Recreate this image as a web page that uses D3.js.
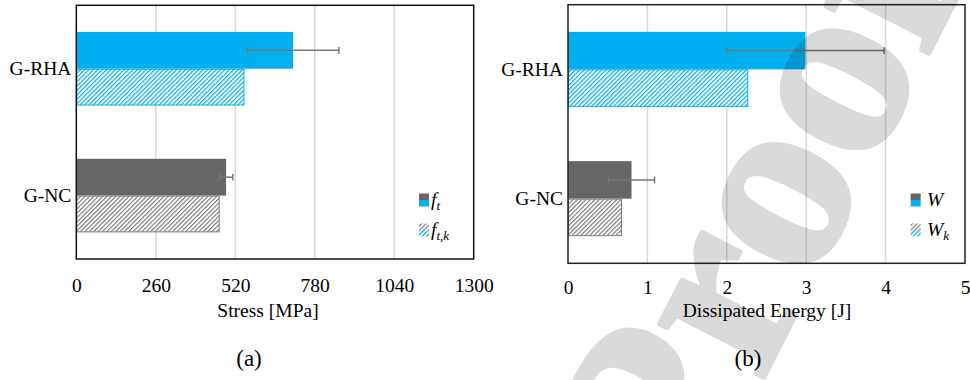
<!DOCTYPE html>
<html>
<head>
<meta charset="utf-8">
<script src="https://cdn.jsdelivr.net/npm/d3@7/dist/d3.min.js"></script>
<style>
  html, body { margin: 0; padding: 0; background: #ffffff; }
  svg { display: block; }
  text { font-family: "Liberation Serif", "Times New Roman", serif; fill: #000; }
</style>
</head>
<body>
<svg id="chart" width="970" height="380"></svg>
<script>
// Specimen groups
const categories = ["G-RHA", "G-NC"];

// Tensile stress [MPa]: mean, standard deviation, characteristic value
const stressMean = [709, 490];
const stressErr = [150, 22];
const stressChar = [550, 469];
const stressTicks = [0, 260, 520, 780, 1040, 1300];

// Dissipated energy [J]: mean, standard deviation, characteristic value
const energyMean = [2.99, 0.80];
const energyErr = [0.99, 0.29];
const energyChar = [2.27, 0.68];
const energyTicks = [0, 1, 2, 3, 4, 5];

// Group colours (solid bar / hatch colour)
const solidColors = ["#00b0f0", "#666666"];
const hatchColors = ["#00b0f0", "#7f7f7f"];

const svg = d3.select("#chart");
const defs = svg.append("defs");

function hatchPattern(id, color) {
  const p = defs.append("pattern")
    .attr("id", id)
    .attr("patternUnits", "userSpaceOnUse")
    .attr("width", 3.1).attr("height", 3.1)
    .attr("patternTransform", "rotate(45)");
  p.append("rect").attr("width", 3.1).attr("height", 3.1).attr("fill", "#fff");
  p.append("line").attr("x1", 0.6).attr("y1", 0).attr("x2", 0.6).attr("y2", 3.1)
    .attr("stroke", color).attr("stroke-width", 1.2);
}
hatchPattern("hatch-0", hatchColors[0]);
hatchPattern("hatch-1", hatchColors[1]);

function drawPanel(cfg) {
  const g = svg.append("g");
  const x = d3.scaleLinear().domain([0, cfg.ticks[cfg.ticks.length - 1]])
    .range([cfg.left, cfg.right]);
  const y = d3.scaleBand().domain(categories)
    .range([cfg.top, cfg.bottom]).paddingInner(0.42).paddingOuter(0.21);
  const half = y.bandwidth() / 2;

  // vertical gridlines
  g.append("g").selectAll("line")
    .data(cfg.ticks.slice(1, -1))
    .join("line")
    .attr("x1", d => x(d)).attr("x2", d => x(d))
    .attr("y1", cfg.top).attr("y2", cfg.bottom)
    .attr("stroke", "#d9d9d9").attr("stroke-width", 1.5);

  // mean values (solid)
  g.append("g").selectAll("rect")
    .data(categories)
    .join("rect")
    .attr("x", x(0))
    .attr("y", d => y(d))
    .attr("width", (d, i) => x(cfg.mean[i]) - x(0))
    .attr("height", half)
    .attr("fill", (d, i) => solidColors[i]);

  // characteristic values (hatched)
  g.append("g").selectAll("rect")
    .data(categories)
    .join("rect")
    .attr("x", x(0) + 0.5)
    .attr("y", d => y(d) + half + 0.5)
    .attr("width", (d, i) => x(cfg.char[i]) - x(0) - 1)
    .attr("height", half - 1)
    .attr("fill", (d, i) => `url(#hatch-${i})`)
    .attr("stroke", (d, i) => hatchColors[i])
    .attr("stroke-width", 1);

  // error bars on the mean values
  const eb = g.append("g").attr("stroke", "#767676").attr("stroke-width", 1.5);
  categories.forEach((c, i) => {
    const cy = y(c) + half / 2;
    const lo = x(cfg.mean[i] - cfg.err[i]);
    const hi = x(cfg.mean[i] + cfg.err[i]);
    eb.append("line").attr("x1", lo).attr("x2", hi).attr("y1", cy).attr("y2", cy);
    eb.append("line").attr("x1", lo).attr("x2", lo).attr("y1", cy - 3.3).attr("y2", cy + 3.3);
    eb.append("line").attr("x1", hi).attr("x2", hi).attr("y1", cy - 3.3).attr("y2", cy + 3.3);
  });

  // frame
  g.append("rect")
    .attr("x", cfg.left).attr("y", cfg.top)
    .attr("width", cfg.right - cfg.left).attr("height", cfg.bottom - cfg.top)
    .attr("fill", "none").attr("stroke", cfg.frame).attr("stroke-width", 1.5);

  // axes
  const xAxis = g.append("g")
    .attr("transform", `translate(0,${cfg.tickY})`)
    .call(d3.axisBottom(x).tickValues(cfg.ticks).tickFormat(d3.format("d"))
      .tickSize(0).tickPadding(0));
  xAxis.select(".domain").remove();
  xAxis.selectAll("text").attr("font-size", 19.5).attr("dy", 0)
    .style("font-family", "Liberation Serif");

  const yAxis = g.append("g")
    .attr("transform", `translate(${cfg.left},0)`)
    .call(d3.axisLeft(y).tickSize(0).tickPadding(5));
  yAxis.select(".domain").remove();
  yAxis.selectAll("text").attr("font-size", 19.5)
    .style("font-family", "Liberation Serif");

  // axis title and panel label
  g.append("text").attr("x", cfg.titleX).attr("y", 317)
    .attr("text-anchor", "middle").attr("font-size", 19.5).text(cfg.title);
  g.append("text").attr("x", cfg.labelX).attr("y", 366)
    .attr("text-anchor", "middle").attr("font-size", 23).text(cfg.label);

  // legend: two-tone swatches (G-NC above, G-RHA below)
  const lg = g.append("g");
  const sw = [{ y: 193.5, hatched: false }, { y: 223.5, hatched: true }];
  sw.forEach(s => {
    lg.append("rect").attr("x", cfg.legX).attr("y", s.y).attr("width", 10).attr("height", 6.5)
      .attr("fill", s.hatched ? "url(#hatch-1)" : solidColors[1]);
    lg.append("rect").attr("x", cfg.legX).attr("y", s.y + 6.5).attr("width", 10).attr("height", 6.5)
      .attr("fill", s.hatched ? "url(#hatch-0)" : solidColors[0]);
  });
  cfg.legend.forEach((l, k) => {
    const t = lg.append("text").attr("x", cfg.legTextX).attr("y", 206 + 30 * k)
      .attr("font-size", 19.5).attr("font-style", "italic");
    t.append("tspan").text(l.main);
    if (l.sub) t.append("tspan").attr("font-size", 13).attr("dy", 4).text(l.sub);
  });
}

drawPanel({
  left: 76.3, right: 473.7, top: 5.3, bottom: 259, tickY: 292,
  ticks: stressTicks, mean: stressMean, err: stressErr, char: stressChar,
  frame: "#111", title: "Stress [MPa]", titleX: 268, label: "(a)", labelX: 249,
  legX: 419, legTextX: 431,
  legend: [{ main: "f", sub: "t" }, { main: "f", sub: "t,k" }]
});

drawPanel({
  left: 568, right: 965, top: 4.7, bottom: 263.3, tickY: 294,
  ticks: energyTicks, mean: energyMean, err: energyErr, char: energyChar,
  frame: "#222", title: "Dissipated Energy [J]", titleX: 767, label: "(b)", labelX: 748,
  legX: 910.7, legTextX: 927,
  legend: [{ main: "W" }, { main: "W", sub: "k" }]
});

// diagonal "Proof" stamp across the right panel (element-level opacity so
// the emboldening stroke and the fill blend as one shape)
svg.append("text")
  .attr("transform", "translate(690,522) rotate(-63)")
  .attr("font-size", 255).attr("font-weight", "bold")
  .style("fill", "#000").style("stroke", "#000").style("stroke-width", 5)
  .style("stroke-linejoin", "round")
  .style("opacity", 0.14)
  .text("Proof");
</script>
</body>
</html>
